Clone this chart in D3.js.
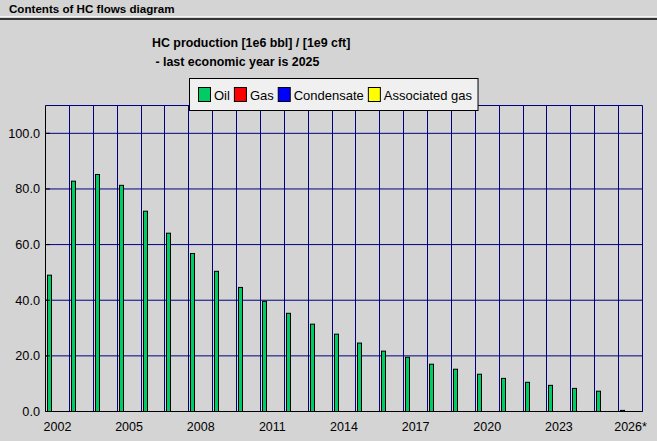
<!DOCTYPE html>
<html>
<head>
<meta charset="utf-8">
<script src="https://cdn.jsdelivr.net/npm/d3@7"></script>
<style>
	body{margin:0;background:#d4d4d4;}
	svg{display:block;font-family:"Liberation Sans",Arial,sans-serif;}
</style>
</head>
<body>
<svg width="657" height="441"></svg>
<script>
//chart values
var years = ['2002','2003','2004','2005','2006','2007','2008','2009','2010','2011','2012','2013','2014','2015','2016','2017','2018','2019','2020','2021','2022','2023','2024','2025','2026'];
var tickLabels = ['2002','2005','2008','2011','2014','2017','2020','2023','2026*'];
var seriesNames = ['Oil','Gas','Condensate','Associated gas'];
var seriesColors = ['#00cc66','#ff0000','#0000ff','#ffff00'];
var oil = [49.0,82.8,85.2,81.3,72.0,64.1,56.8,50.4,44.6,39.6,35.3,31.4,27.8,24.6,21.7,19.5,17.0,15.2,13.4,11.9,10.5,9.4,8.3,7.3,0.4];
var gas = [0,0,0,0,0,0,0,0,0,0,0,0,0,0,0,0,0,0,0,0,0,0,0,0,0];
var condensate = [0,0,0,0,0,0,0,0,0,0,0,0,0,0,0,0,0,0,0,0,0,0,0,0,0];
var assocGas = [0,0,0,0,0,0,0,0,0,0,0,0,0,0,0,0,0,0,0,0,0,0,0,0,0];
var yTicks = [0,20,40,60,80,100];

var svg = d3.select('svg');

//window header
svg.append('text').attr('x',9).attr('y',13).attr('font-size',11.6).attr('font-weight','bold').text('Contents of HC flows diagram');
svg.append('line').attr('x1',0).attr('x2',657).attr('y1',16.5).attr('y2',16.5).attr('stroke','#f4f4f4');
svg.append('line').attr('x1',0).attr('x2',657).attr('y1',19).attr('y2',19).attr('stroke','#000').attr('stroke-width',1.5);

svg.append('text').attr('x',152).attr('y',47).attr('font-size',12.4).attr('font-weight','bold').text('HC production [1e6 bbl] / [1e9 cft]');
svg.append('text').attr('x',152).attr('y',66).attr('font-size',12.4).attr('font-weight','bold').attr('xml:space','preserve').text(' - last economic year is 2025');

var x = d3.scaleBand().domain(years).range([45.5,642.5]).padding(0);
var sub = d3.scaleBand().domain(seriesNames).range([2,x.bandwidth()-2]);
var y = d3.scaleLinear().domain([0,110]).range([411.5,105.5]);

//snap to whole pixels so the 1px lines stay crisp
function px(v){return Math.floor(v) + 0.5}

var plot = svg.append('g');

//grid
plot.selectAll('.hgrid').data(yTicks.concat([110])).enter().append('line').attr('class','hgrid')
	.attr('x1',45.5).attr('x2',642.5).attr('y1',function(d){return y(d)}).attr('y2',function(d){return y(d)})
	.attr('stroke','#000080');
plot.selectAll('.vgrid').data(years).enter().append('line').attr('class','vgrid')
	.attr('x1',function(d){return px(x(d) + x.bandwidth())}).attr('x2',function(d){return px(x(d) + x.bandwidth())})
	.attr('y1',105.5).attr('y2',411.5).attr('stroke','#000080');

//bars, one group per year
var table = years.map(function(yr,i){
	return {year:yr,values:[oil[i],gas[i],condensate[i],assocGas[i]].map(function(v,j){return {name:seriesNames[j],color:seriesColors[j],value:v}})};
});
var groups = plot.selectAll('.yr').data(table).enter().append('g').attr('class','yr')
	.attr('transform',function(d){return 'translate(' + Math.floor(x(d.year)) + ',0)'});
groups.selectAll('rect').data(function(d){return d.values.filter(function(v){return v.value > 0})}).enter().append('rect')
	.attr('x',function(d){return Math.round(sub(d.name)) + 0.5}).attr('width',Math.round(sub.bandwidth())-1)
	.attr('y',function(d){return y(d.value)}).attr('height',function(d){return Math.max(0,y(0)-y(d.value))})
	.attr('fill',function(d){return d.color}).attr('stroke','#000').attr('stroke-width',1);

//axes
plot.append('line').attr('x1',45.5).attr('x2',45.5).attr('y1',105.5).attr('y2',411.5).attr('stroke','#000');
plot.append('line').attr('x1',45.5).attr('x2',642.5).attr('y1',411.5).attr('y2',411.5).attr('stroke','#000');
plot.selectAll('.ytick').data(yTicks).enter().append('line').attr('class','ytick')
	.attr('x1',45.5).attr('x2',50).attr('y1',function(d){return y(d)}).attr('y2',function(d){return y(d)}).attr('stroke','#000');

svg.selectAll('.ylab').data(yTicks).enter().append('text').attr('class','ylab')
	.attr('x',40).attr('y',function(d){return y(d)}).attr('dy','0.35em').attr('text-anchor','end').attr('font-size',12.7)
	.text(function(d){return d3.format('.1f')(d)});

var tickYears = years.filter(function(yr,i){return i % 3 === 0});
svg.selectAll('.xlab').data(tickYears).enter().append('text').attr('class','xlab')
	.attr('x',function(d){return x(d) + x.bandwidth()/2}).attr('y',431).attr('text-anchor','middle').attr('font-size',12.5)
	.text(function(d,i){return tickLabels[i]});

//legend
var legend = svg.append('g');
var box = legend.append('rect').attr('x',189.5).attr('y',78.5).attr('height',32).attr('fill','#f0f0f0').attr('stroke','#000');
var lx = 198;
seriesNames.forEach(function(name,i){
	legend.append('rect').attr('x',lx + 0.5).attr('y',87.5).attr('width',12).attr('height',14).attr('fill',seriesColors[i]).attr('stroke','#000');
	var t = legend.append('text').attr('x',lx + 16).attr('y',100).attr('font-size',13).text(name);
	lx = lx + 16 + t.node().getComputedTextLength() + 4;
});
box.attr('width',lx - 189.5 + 2);
</script>
</body>
</html>
